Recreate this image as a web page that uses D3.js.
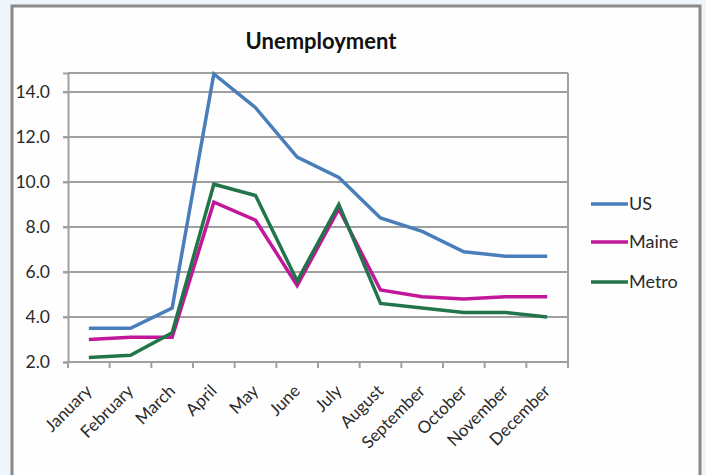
<!DOCTYPE html>
<html><head><meta charset="utf-8">
<script src="https://cdn.jsdelivr.net/npm/d3@7"></script>
<style>
html,body{margin:0;padding:0;background:#eef5fb;}
svg{display:block;}
text{font-family:Lato,"Open Sans",sans-serif;}
</style></head>
<body><svg id="c" width="706" height="475"></svg>
<script>
const months = ["January","February","March","April","May","June","July","August","September","October","November","December"];
const usValues = [3.5,3.5,4.4,14.8,13.3,11.1,10.2,8.4,7.8,6.9,6.7,6.7];
const maineValues = [3.0,3.1,3.1,9.1,8.3,5.4,8.8,5.2,4.9,4.8,4.9,4.9];
const metroValues = [2.2,2.3,3.3,9.9,9.4,5.6,9.0,4.6,4.4,4.2,4.2,4.0];
const seriesNames = ["US","Maine","Metro"];
const yTicks = [2,4,6,8,10,12,14];

const colors = {"US":"#4a7ebb","Maine":"#c0179b","Metro":"#22744a"};
const series = [
  {name:"US", values:usValues},
  {name:"Maine", values:maineValues},
  {name:"Metro", values:metroValues}
];

const svg = d3.select("#c");
// chart frame
svg.append("rect").attr("x",12).attr("y",6).attr("width",688).attr("height",480)
  .attr("fill","#fefefe").attr("stroke","#8a8a8a").attr("stroke-width",3);

const L=68, R=568, T=73, B=362;
const x = d3.scaleBand().domain(months).range([L,R]);
const y = d3.scaleLinear().domain([2,14.84]).range([B,T]);

// title
svg.append("text").attr("x",321).attr("y",49).attr("text-anchor","middle")
  .attr("font-size",22).attr("font-weight","bold").attr("fill","#111").text("Unemployment");

// gridlines
svg.append("g").selectAll("line").data(yTicks.filter(d=>d>2)).join("line")
  .attr("x1",L-5).attr("x2",R).attr("y1",d=>y(d)).attr("y2",d=>y(d))
  .attr("stroke","#a0a0a0").attr("stroke-width",2);
// plot border top/right
svg.append("line").attr("x1",L).attr("x2",R).attr("y1",T).attr("y2",T).attr("stroke","#a0a0a0").attr("stroke-width",2);
svg.append("line").attr("x1",R).attr("x2",R).attr("y1",T).attr("y2",B).attr("stroke","#a0a0a0").attr("stroke-width",2);

// y axis
const yAxis = d3.axisLeft(y).tickValues(yTicks).tickFormat(d3.format(".1f")).tickSize(5).tickPadding(13);
const gy = svg.append("g").attr("transform",`translate(${L},0)`).call(yAxis);
gy.attr("font-size",null).attr("font-family",null);
gy.select(".domain").attr("stroke","#a0a0a0").attr("stroke-width",2);
gy.selectAll(".tick line").attr("stroke","#a0a0a0").attr("stroke-width",2);
gy.selectAll("text").style("font-size","17.5px").attr("fill","#2a2a2a");

// x axis with ticks at boundaries
const gx = svg.append("g").attr("transform",`translate(0,${B})`);
gx.append("line").attr("x1",L).attr("x2",R).attr("stroke","#a0a0a0").attr("stroke-width",2);
const bounds = months.map(m=>x(m)).concat([x(months[months.length-1])+x.bandwidth()]);
gx.selectAll("line.tk").data(bounds).join("line").attr("class","tk")
  .attr("x1",d=>d).attr("x2",d=>d).attr("y1",0).attr("y2",6)
  .attr("stroke","#a0a0a0").attr("stroke-width",2);
gx.selectAll("text").data(months).join("text")
  .attr("transform",d=>`translate(${x(d)+x.bandwidth()/2+4},${30}) rotate(-45)`)
  .attr("text-anchor","end").style("font-size","17px").attr("fill","#2a2a2a").text(d=>d);

// lines
const line = d3.line().x((d,i)=>x(months[i])+x.bandwidth()/2).y(d=>y(d));
svg.append("g").selectAll("path").data(series).join("path")
  .attr("d",d=>line(d.values)).attr("fill","none")
  .attr("stroke",d=>colors[d.name]).attr("stroke-width",3.5)
  .attr("stroke-linejoin","miter");

// legend
const legY = {"US":204,"Maine":242,"Metro":282};
const lg = svg.append("g").selectAll("g").data(seriesNames).join("g")
  .attr("transform",d=>`translate(591,${legY[d]})`);
lg.append("line").attr("x1",0).attr("x2",37).attr("stroke",d=>colors[d]).attr("stroke-width",3.5);
lg.append("text").attr("x",38).attr("y",6).style("font-size","18px").attr("fill","#2a2a2a").text(d=>d);
</script></body></html>
